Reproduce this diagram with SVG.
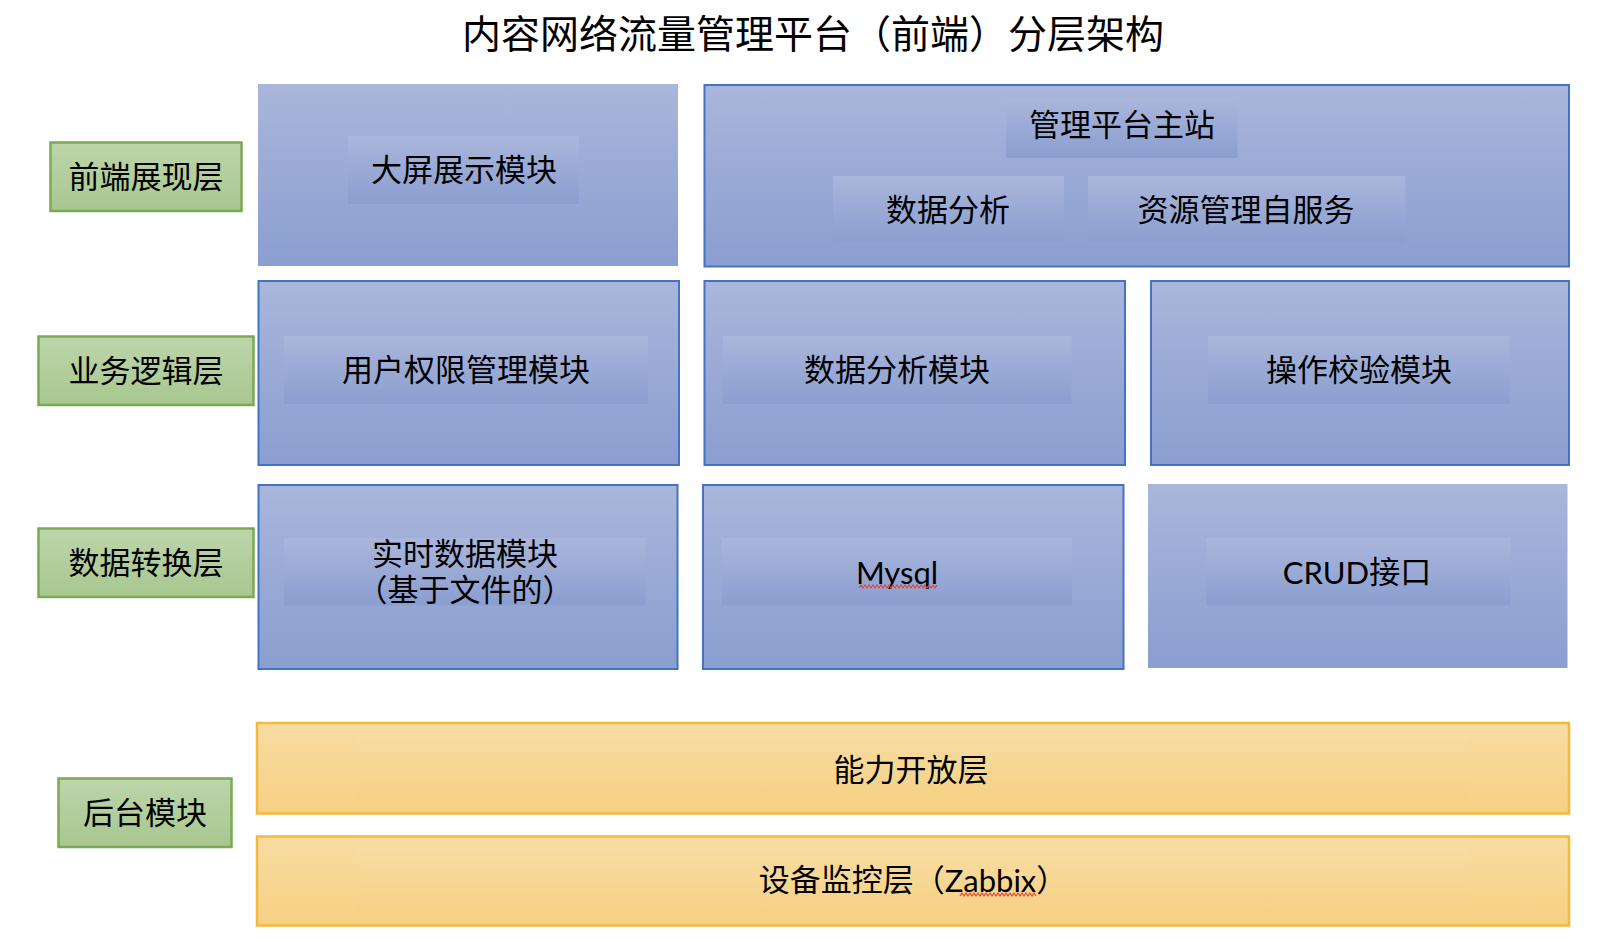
<svg xmlns="http://www.w3.org/2000/svg" width="1620" height="942" viewBox="0 0 1620 942">
  <defs>
    <linearGradient id="gBlue" x1="0" y1="0" x2="0" y2="1">
      <stop offset="0" stop-color="#AAB6DB"/>
      <stop offset="1" stop-color="#8A9ED0"/>
    </linearGradient>
    <linearGradient id="gGreen" x1="0" y1="0" x2="0" y2="1">
      <stop offset="0" stop-color="#BDD5AB"/>
      <stop offset="1" stop-color="#A8C78F"/>
    </linearGradient>
    <linearGradient id="gOrange" x1="0" y1="0" x2="0" y2="1">
      <stop offset="0" stop-color="#F8DCA3"/>
      <stop offset="1" stop-color="#F6D183"/>
    </linearGradient>
    <style>
      .cjk { font-family: "Liberation Sans", "Noto Sans CJK SC", sans-serif; font-size: 31px; fill: #000; text-anchor: middle; dominant-baseline: central; }
      .lat { font-family: Lato, "Liberation Sans", "Noto Sans CJK SC", sans-serif; }
      .title { font-size: 39px; }
      .box { fill: url(#gBlue); stroke: #4472C4; stroke-width: 2; }
      .boxnb { fill: url(#gBlue); stroke: none; }
      .inner { fill: url(#gBlue); stroke: none; }
      .layer { fill: url(#gGreen); stroke: #7AAA55; stroke-width: 2.5; }
      .orange { fill: url(#gOrange); stroke: #F4BA3B; stroke-width: 2.5; }
      .oinner { fill: url(#gOrange); stroke: none; }
      .squig { fill: none; stroke: #E0463A; stroke-width: 1.2; }
      .halt { font-feature-settings: "halt"; }
    </style>
  </defs>

  <g id="title">
    <text class="cjk title" x="813" y="34">内容网络流量管理平台（前端）分层架构</text>
  </g>

  <!-- layer labels -->
  <g id="layer-frontend">
    <rect class="layer" x="50.5" y="142.5" width="191" height="68.5"/>
    <text class="cjk" x="146" y="177">前端展现层</text>
  </g>
  <g id="layer-business">
    <rect class="layer" x="38.5" y="336.5" width="215" height="68.5"/>
    <text class="cjk" x="146" y="371">业务逻辑层</text>
  </g>
  <g id="layer-data">
    <rect class="layer" x="38.5" y="528.5" width="215" height="68.5"/>
    <text class="cjk" x="146" y="563">数据转换层</text>
  </g>
  <g id="layer-backend">
    <rect class="layer" x="58.5" y="778.5" width="173" height="68.5"/>
    <text class="cjk" x="145" y="813">后台模块</text>
  </g>

  <!-- front-end row -->
  <g id="bigscreen">
    <rect class="boxnb" x="258" y="84" width="420" height="182"/>
    <rect class="inner" x="348" y="136" width="231" height="68"/>
    <text class="cjk" x="464" y="170">大屏展示模块</text>
  </g>
  <g id="mgmt-portal">
    <rect class="box" x="704.5" y="85" width="864.5" height="181.5"/>
    <g id="portal-main">
      <rect class="inner" x="1006" y="98" width="231.5" height="60"/>
      <text class="cjk" x="1122" y="125">管理平台主站</text>
    </g>
    <g id="portal-analysis">
      <rect class="inner" x="833" y="176" width="231" height="67"/>
      <text class="cjk" x="948" y="210">数据分析</text>
    </g>
    <g id="portal-selfservice">
      <rect class="inner" x="1088" y="176" width="317.5" height="67"/>
      <text class="cjk" x="1246" y="210">资源管理自服务</text>
    </g>
  </g>

  <!-- business row -->
  <g id="user-perm">
    <rect class="box" x="258.5" y="281" width="420.5" height="184"/>
    <rect class="inner" x="284" y="336" width="364" height="68"/>
    <text class="cjk" x="466" y="370">用户权限管理模块</text>
  </g>
  <g id="analysis-module">
    <rect class="box" x="704.5" y="281" width="420.5" height="184"/>
    <rect class="inner" x="723" y="336" width="348.5" height="68"/>
    <text class="cjk" x="897" y="370">数据分析模块</text>
  </g>
  <g id="verify-module">
    <rect class="box" x="1151" y="281" width="418" height="184"/>
    <rect class="inner" x="1208" y="336" width="301.5" height="68"/>
    <text class="cjk" x="1359" y="370">操作校验模块</text>
  </g>

  <!-- data row -->
  <g id="realtime-data">
    <rect class="box" x="258.5" y="485" width="419" height="184"/>
    <rect class="inner" x="284" y="538" width="361.5" height="67.5"/>
    <text class="cjk" x="465" y="554">实时数据模块</text>
    <text class="cjk halt" x="465" y="590">（基于文件的）</text>
  </g>
  <g id="mysql">
    <rect class="box" x="703" y="485" width="420.5" height="184"/>
    <rect class="inner" x="722" y="538" width="350" height="67.5"/>
    <text class="cjk lat" x="897" y="572">Mysql</text>
    <polyline class="squig" points="859,588 861,585 863,588 865,585 867,588 869,585 871,588 873,585 875,588 877,585 879,588 881,585 883,588 885,585 887,588 889,585 891,588 893,585 895,588 897,585 899,588 901,585 903,588 905,585 907,588 909,585 911,588 913,585 915,588 917,585 919,588 921,585 923,588 925,585 927,588 929,585 931,588 933,585 935,588 937,585"/>
  </g>
  <g id="crud">
    <rect class="boxnb" x="1148" y="484" width="419.5" height="184"/>
    <rect class="inner" x="1206" y="538" width="304.5" height="67.5"/>
    <text class="cjk" x="1357" y="572"><tspan class="lat">CRUD</tspan>接口</text>
  </g>

  <!-- backend -->
  <g id="open-layer">
    <rect class="orange" x="257" y="723" width="1312" height="90.5"/>
    <rect class="oinner" x="355" y="733" width="1114" height="70"/>
    <text class="cjk" x="911" y="770">能力开放层</text>
  </g>
  <g id="monitor-layer">
    <rect class="orange" x="257" y="836.5" width="1312" height="89"/>
    <rect class="oinner" x="355" y="846" width="1114" height="70"/>
    <text class="cjk" x="913" y="880">设备监控层（<tspan class="lat">Zabbix</tspan>）</text>
    <polyline class="squig" points="960,896 962,893 964,896 966,893 968,896 970,893 972,896 974,893 976,896 978,893 980,896 982,893 984,896 986,893 988,896 990,893 992,896 994,893 996,896 998,893 1000,896 1002,893 1004,896 1006,893 1008,896 1010,893 1012,896 1014,893 1016,896 1018,893 1020,896 1022,893 1024,896 1026,893 1028,896 1030,893 1032,896 1034,893 1036,896"/>
  </g>

  <g id="connectors"/>
</svg>
